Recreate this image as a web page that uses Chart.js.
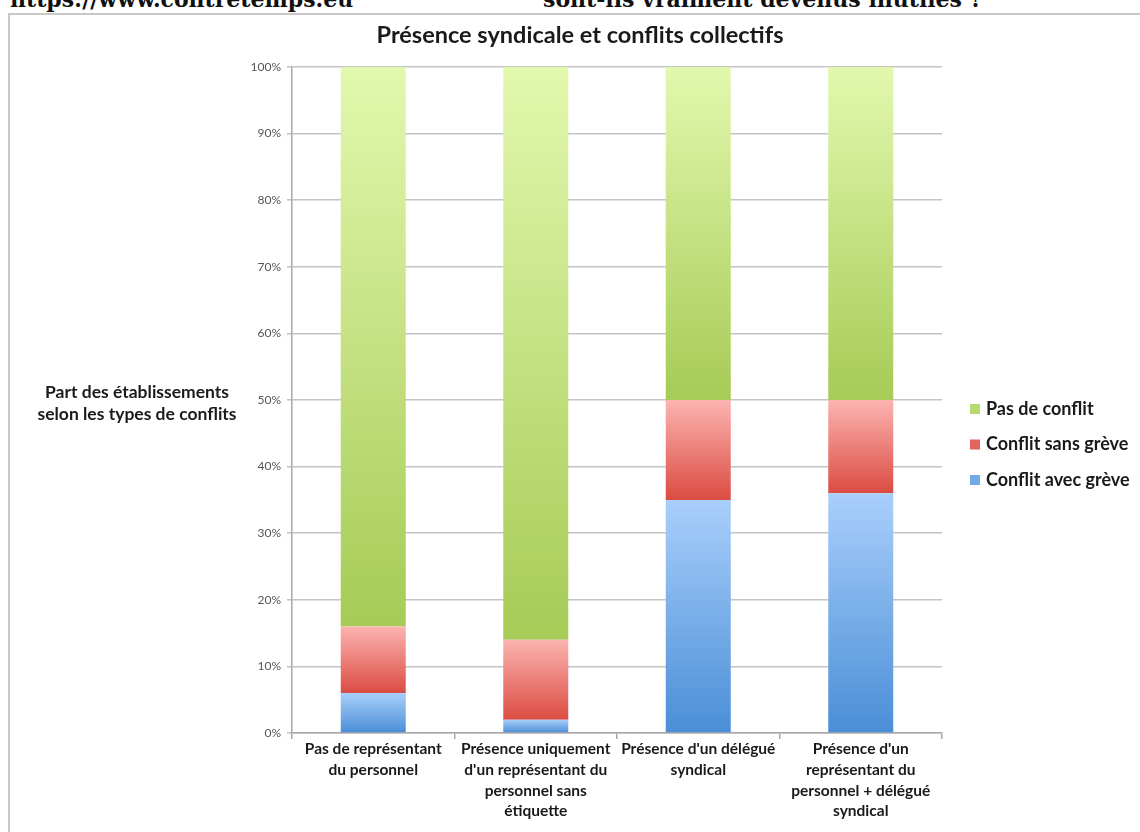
<!DOCTYPE html>
<html lang="fr">
<head>
<meta charset="utf-8">
<title>Présence syndicale et conflits collectifs</title>
<script src="https://cdn.jsdelivr.net/npm/chart.js@4/dist/chart.umd.min.js"></script>
<style>
  html, body { margin: 0; padding: 0; background: #fff; overflow: hidden; }
  body { width: 1140px; height: 832px; position: relative; }
  .head {
    position: absolute; top: -12px; left: 0; width: 1140px; height: 22px;
    font: bold 22px "DejaVu Serif", serif; color: #111; line-height: 22px;
    white-space: nowrap;
  }
  .head span { position: absolute; top: 0; }
  .frame {
    position: absolute; left: 8px; top: 13px; width: 1200px; height: 900px;
    border: 2px solid #c8c8c8; box-sizing: border-box; background: #fff;
  }
  #wrap { position: absolute; left: 0; top: 0; width: 1140px; height: 832px; }
</style>
</head>
<body>
<div class="head"><span style="left:10px">https://www.contretemps.eu</span><span style="left:543px">sont-ils vraiment devenus inutiles ?</span></div>
<div class="frame"></div>
<div id="wrap"><canvas id="c" width="1140" height="832"></canvas></div>
<script>
// Établissements par type de représentation du personnel
const categories = [
  ["Pas de représentant", "du personnel"],
  ["Présence uniquement", "d'un représentant du", "personnel sans", "étiquette"],
  ["Présence d'un délégué", "syndical"],
  ["Présence d'un", "représentant du", "personnel + délégué", "syndical"]
];

// Parts en % (empilées de bas en haut)
const conflitAvecGreve = [6, 2, 35, 36];
const conflitSansGreve = [10, 12, 15, 14];
const pasDeConflit = [84, 86, 50, 50];

const yTicks = [0, 10, 20, 30, 40, 50, 60, 70, 80, 90, 100];

const stacked = [conflitAvecGreve, conflitSansGreve, pasDeConflit];
const FONT = "Lato, 'Open Sans', sans-serif";

// Dégradé vertical propre à chaque segment : clair en haut, soutenu en bas
function segmentFill(light, dark) {
  return function (ctx) {
    const chart = ctx.chart;
    if (ctx.type !== 'data' || !chart.chartArea || !chart.scales.y) return dark;
    const y = chart.scales.y;
    const i = ctx.dataIndex, d = ctx.datasetIndex;
    let base = 0;
    for (let k = 0; k < d; k++) base += stacked[k][i];
    const top = base + stacked[d][i];
    const y0 = y.getPixelForValue(top), y1 = y.getPixelForValue(base);
    if (!isFinite(y0) || !isFinite(y1) || y0 === y1) return dark;
    const g = chart.ctx.createLinearGradient(0, y0, 0, y1);
    g.addColorStop(0, light);
    g.addColorStop(1, dark);
    return g;
  };
}

const series = [
  { label: "Conflit avec grève", data: conflitAvecGreve, light: "#a9cffb", dark: "#4a8ed7", key: "#72a9e8" },
  { label: "Conflit sans grève", data: conflitSansGreve, light: "#fcb4b1", dark: "#db4c42", key: "#e2655e" },
  { label: "Pas de conflit", data: pasDeConflit, light: "#e2f8ae", dark: "#a6cb56", key: "#b6d972" }
];

// Titre, titre d'axe horizontal et légende dessinés sur le canevas
const decorations = {
  id: 'decorations',
  afterDraw(chart) {
    const c = chart.ctx;
    c.save();
    c.fillStyle = '#1a1a1a';
    c.textBaseline = 'middle';
    c.textAlign = 'center';
    c.font = "bold 23.5px " + FONT;
    c.fillText("Présence syndicale et conflits collectifs", 580, 35);

    c.font = "bold 17.5px " + FONT;
    c.fillText("Part des établissements", 137, 392);
    c.fillText("selon les types de conflits", 137, 414);

    c.textAlign = 'left';
    const order = [2, 1, 0];
    order.forEach((s, r) => {
      const yc = 409 + r * 35.5;
      c.fillStyle = series[s].key;
      c.fillRect(970, yc - 5, 10, 10);
      c.fillStyle = '#1a1a1a';
      c.font = "bold 18px " + FONT;
      c.fillText(series[s].label, 986, yc);
    });
    c.restore();
  }
};

new Chart(document.getElementById('c'), {
  type: 'bar',
  data: {
    labels: categories,
    datasets: series.map(s => ({
      label: s.label,
      data: s.data,
      backgroundColor: segmentFill(s.light, s.dark),
      borderWidth: 0,
      barPercentage: 0.4,
      categoryPercentage: 1.0
    }))
  },
  options: {
    responsive: false,
    animation: false,
    devicePixelRatio: 1,
    layout: { padding: { left: 232, right: 198, top: 67, bottom: 0 } },
    plugins: {
      legend: { display: false },
      title: { display: false },
      tooltip: { enabled: false }
    },
    scales: {
      x: {
        stacked: true,
        afterFit(scale) { scale.height = 99; },
        grid: {
          offset: true,
          drawOnChartArea: false,
          drawTicks: true,
          tickLength: 6,
          color: '#a8a8a8',
          lineWidth: 1.5
        },
        border: { color: '#a8a8a8', width: 1.5 },
        ticks: {
          autoSkip: false,
          maxRotation: 0,
          minRotation: 0,
          padding: 0,
          color: '#1a1a1a',
          font: { family: FONT, size: 15.5, weight: 'bold', lineHeight: 1.335 }
        }
      },
      y: {
        stacked: true,
        min: 0,
        max: 100,
        afterFit(scale) { scale.width = 60; },
        afterBuildTicks(scale) { scale.ticks = yTicks.map(v => ({ value: v })); },
        grid: {
          color: '#c4c4c4',
          lineWidth: 1.6,
          tickLength: 5,
          drawTicks: true
        },
        border: { color: '#a8a8a8', width: 1.5 },
        ticks: {
          padding: 6,
          color: '#555',
          font: { family: FONT, size: 12 },
          callback: v => v + '%'
        }
      }
    }
  },
  plugins: [decorations]
});
</script>
</body>
</html>
